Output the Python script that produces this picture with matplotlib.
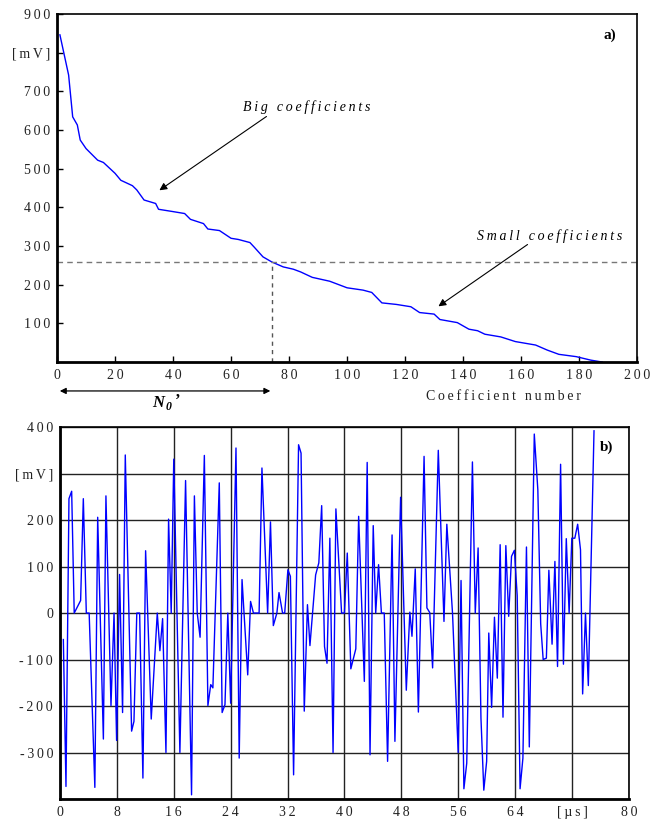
"""
plot.py  -  coeficientes ordenados (a) y senal reconstruida (b).
"""
import matplotlib; matplotlib.use("Agg"); import matplotlib.pyplot as plt

SERIF = ["Liberation Serif", "DejaVu Serif"]
plt.rcParams["font.family"] = SERIF

# --- a) coeficientes ordenados de mayor a menor
coef_n = [1, 4, 5.4, 7, 8, 10, 14, 16, 20, 22, 26, 27.5, 30, 34, 35, 40, 44, 46, 50.5, 52, 56, 60, 62.5, 66.5,
          68, 71, 74, 78, 81.5, 84, 88, 94, 100, 105.5, 108.5, 112, 117, 122, 125, 130, 132, 138, 142, 145,
          147.5, 153, 158, 165, 169, 173, 179, 184, 188]
coef_mv = [846, 742, 634, 613, 574, 552, 522, 516, 488, 470, 456, 445, 419, 410, 395, 389, 384, 369, 358, 344,
           340, 320, 317, 309, 297, 272, 259, 246, 240, 233, 219, 209, 192, 186, 180, 153, 149, 143, 128, 124,
           110, 102, 85, 81, 72, 65, 53, 44, 31, 20, 14, 5, 0]
threshold_mv = 259
n0 = 74
a_xticks = list(range(0, 201, 20))
a_yticks = list(range(100, 901, 100))
a_ylabels = ["100", "200", "300", "400", "500", "600", "700", "[mV]", "900"]

# --- b) senal en el tiempo
t_us = [0.47, 0.84, 1.26, 1.64, 2.0, 2.9, 3.28, 3.7, 4.1, 4.9, 5.3, 6.1, 6.46, 7.17, 7.6, 7.96, 8.38, 8.8, 9.18,
        10.07, 10.4, 10.8, 11.2, 11.66, 12.04, 12.83, 13.68, 14.05, 14.43, 14.9, 15.27, 15.64, 16.0, 16.86,
        17.66, 18.5, 18.9, 19.3, 19.7, 20.3, 20.8, 21.2, 21.5, 22.4, 22.8, 23.2, 23.6, 24.0, 24.75, 25.2, 25.6,
        26.4, 26.8, 27.2, 28.0, 28.4, 29.2, 29.6, 30.0, 30.5, 30.8, 31.3, 31.6, 32.05, 32.4, 32.85, 33.55, 33.9,
        34.35, 34.8, 35.15, 35.95, 36.4, 36.8, 37.2, 37.55, 37.95, 38.4, 38.8, 39.6, 40.0, 40.4, 40.9, 41.6,
        42.0, 42.8, 43.2, 43.6, 44.05, 44.4, 44.8, 45.2, 45.6, 46.07, 46.7, 47.1, 47.9, 48.7, 49.2, 49.5,
        49.96, 50.4, 51.2, 51.6, 52.0, 52.4, 53.2, 54.0, 54.4, 55.2, 56.0, 56.4, 56.8, 57.2, 58.0, 58.4, 58.8,
        59.2, 59.6, 60.0, 60.3, 60.7, 61.1, 61.5, 61.9, 62.3, 62.7, 63.1, 63.5, 63.9, 64.3, 64.7, 65.1, 65.6,
        66.0, 66.7, 67.2, 67.6, 67.95, 68.4, 68.75, 69.2, 69.6, 69.97, 70.4, 70.8, 71.2, 71.6, 71.98, 72.4,
        72.8, 73.2, 73.5, 73.9, 74.3, 75.1]
sig_mv = [-57, -373, 246, 262, 0, 27, 246, 0, 0, -375, 206, -271, 252, -199, 0, -274, 83, -214, 340,
          -254, -233, 0, 0, -355, 134, -228, 0, -81, -12, -300, 202, 0, 331, -300,
          285, -391, 252, 0, -52, 339, -199, -154, -161, 280, -214, -197, 0, -194, 355, -312, 72,
          -133, 25, 0, 0, 312, 0, 196, -27, 0, 44, 0, 0, 93, 79, -348, 362, 344,
          -211, 18, -70, 82, 108, 231, -72, -108, 161, -300, 224, 0, 0, 129, -120, -77,
          208, -147, 324, -305, 188, 0, 104, 0, 0, -319, 168, -276, 249, -166, 2, -50,
          95, -213, 337, 11, 1, -118, 350, -18, 191, 0, -300, 70, -378, -323, 325, 0, 140,
          -226, -381, -319, -43, -203, -9, -140, 147, -224, 145, -7, 122, 135, 37, -378, -312, 142,
          -288, 385, 265, -23, -100, -97, 92, -67, 111, -115, 320, -110, 160, 0, 161, 161,
          191, 136, -174, 0, -156, 392]
b_xticks = list(range(0, 81, 8))
b_xlabels = ["0", "8", "16", "24", "32", "40", "48", "56", "64", "[\u00b5s]", "80"]
b_yticks = list(range(-400, 401, 100))
b_ylabels = ["", "-300", "-200", "-100", "0", "100", "200", "[mV]", "400"]

def spaced(s, sep="\u2009"): return sep.join(s)

def style_axes(ax, ticks=True):
    for side in ["left", "bottom"]: ax.spines[side].set_linewidth(2.0)
    for side in ["top", "right"]: ax.spines[side].set_linewidth(1.2)
    ax.tick_params(direction="in", length=4 if ticks else 0, width=1, labelsize=10, pad=5, labelcolor="#222222")

fig = plt.figure(figsize=(6.63, 8.21), dpi=100)

# ---------- a)
ax = fig.add_axes([0.086, 0.559, 0.875, 0.424])
ax.plot(coef_n, coef_mv, color="#0000ff", lw=1)
ax.axhline(threshold_mv, color="#777777", lw=1, ls=(0, (4, 3)))
ax.plot([n0, n0], [0, threshold_mv], color="#555555", lw=1, ls=(0, (3, 3)))
ax.set_xlim(0, 200); ax.set_ylim(0, 900)
ax.set_xticks(a_xticks); ax.set_xticklabels([spaced(str(v)) for v in a_xticks])
ax.set_yticks(a_yticks); ax.set_yticklabels([spaced(s) for s in a_ylabels])
style_axes(ax)
ax.text(0.953, 0.94, "a)", transform=ax.transAxes, fontsize=11, fontweight="bold", ha="center", va="center")
ax.text(0.769, -0.10, spaced("Coefficient number"), transform=ax.transAxes, fontsize=10, ha="center",
        va="center", color="#222222")
ax.annotate("", xy=(34.5, 440), xytext=(73, 639),
            arrowprops=dict(arrowstyle="-|>", color="k", lw=0.8, mutation_scale=11))
ax.text(64, 659, spaced("Big coefficients"), fontsize=10, style="italic", ha="left", va="center")
ax.annotate("", xy=(130.7, 140), xytext=(163, 308),
            arrowprops=dict(arrowstyle="-|>", color="k", lw=0.8, mutation_scale=11))
ax.text(144.8, 326, spaced("Small coefficients"), fontsize=10, style="italic", ha="left", va="center")
# flecha N0'
ax.annotate("", xy=(0, -0.083), xytext=(n0 + 0.5, -0.083), xycoords=("data", "axes fraction"),
            textcoords=("data", "axes fraction"), annotation_clip=False,
            arrowprops=dict(arrowstyle="<|-|>", color="k", lw=0.9, mutation_scale=9))
ax.text(37, -0.118, "N", transform=ax.get_xaxis_transform(), fontsize=12, fontweight="bold", style="italic",
        ha="right", va="center")
ax.text(37.3, -0.128, "0", transform=ax.get_xaxis_transform(), fontsize=8.5, fontweight="bold", style="italic",
        ha="left", va="center")
ax.text(40.5, -0.112, "\u2019", transform=ax.get_xaxis_transform(), fontsize=12, fontweight="bold",
        ha="left", va="center")

# ---------- b)
bx = fig.add_axes([0.0905, 0.0268, 0.858, 0.453])
bx.plot(t_us, sig_mv, color="#0000ff", lw=1)
bx.set_xlim(0, 80); bx.set_ylim(-400, 400)
bx.set_xticks(b_xticks); bx.set_xticklabels([spaced(s) for s in b_xlabels])
bx.set_yticks(b_yticks); bx.set_yticklabels([spaced(s) for s in b_ylabels])
bx.grid(True, color="#222222", lw=1)
style_axes(bx, ticks=False)
bx.text(0.96, 0.946, "b)", transform=bx.transAxes, fontsize=11, fontweight="bold", ha="center", va="center")

fig.savefig("out.png", dpi=100)
